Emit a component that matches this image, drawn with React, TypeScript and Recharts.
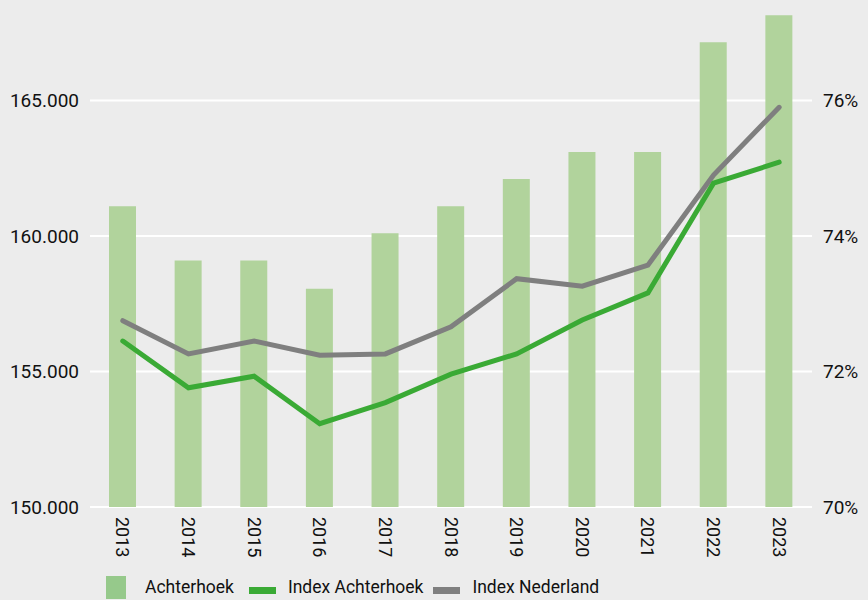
import React from 'react';
import {
    Bar,
    CartesianGrid,
    ComposedChart,
    Line,
    XAxis,
    YAxis,
} from 'recharts';

const years = ['2013', '2014', '2015', '2016', '2017', '2018', '2019', '2020', '2021', '2022', '2023'];
const achterhoek = [161100, 159100, 159100, 158050, 160100, 161100, 162100, 163100, 163100, 167150, 168150];
const indexAchterhoek = [72.45, 71.76, 71.93, 71.23, 71.54, 71.96, 72.26, 72.76, 73.16, 74.78, 75.09];
const indexNederland = [72.75, 72.26, 72.45, 72.24, 72.26, 72.66, 73.37, 73.26, 73.57, 74.9, 75.9];

const leftTicks = [150000, 155000, 160000, 165000];
const rightTicks = [70, 72, 74, 76];

const FONT = 'Roboto, "Noto Sans", sans-serif';
const BAR_COLOR = '#b1d39c';
const GREEN = '#3aaa35';
const GREY = '#7f7f7f';

const data = years.map((year, i) => ({
    year,
    achterhoek: achterhoek[i],
    indexAchterhoek: indexAchterhoek[i],
    indexNederland: indexNederland[i],
}));

const formatThousands = (v: number) => (v / 1000).toFixed(3);

const YearTick = ({ x, y, payload }: any) => (
    <text
        x={x}
        y={y}
        transform={`rotate(90, ${x}, ${y})`}
        textAnchor="start"
        dominantBaseline="central"
        fontSize={18}
        fontFamily={FONT}
        fill="#111"
    >
        {payload.value}
    </text>
);

const legendItems = [
    { label: 'Achterhoek', type: 'square', color: '#96c98b', gap: 15 },
    { label: 'Index Achterhoek', type: 'line', color: GREEN, gap: 10 },
    { label: 'Index Nederland', type: 'line', color: GREY, gap: 0 },
];

const App = () => {
    return (
        <div
            style={{
                position: 'absolute',
                left: 0,
                top: 0,
                width: 868,
                height: 600,
                background: '#ececec',
                fontFamily: FONT,
            }}
        >
            <ComposedChart
                width={868}
                height={600}
                data={data}
                margin={{ top: 10, right: 0, left: 0, bottom: 93 - 52 }}
                barSize={27}
            >
                <CartesianGrid
                    yAxisId="left"
                    vertical={false}
                    horizontalValues={leftTicks}
                    stroke="#ffffff"
                    strokeWidth={2}
                />
                <XAxis
                    dataKey="year"
                    axisLine={false}
                    tickLine={false}
                    interval={0}
                    height={52}
                    tickSize={0}
                    tickMargin={10}
                    tick={<YearTick />}
                />
                <YAxis
                    yAxisId="left"
                    orientation="left"
                    width={90}
                    domain={[150000, 168340]}
                    ticks={leftTicks}
                    allowDataOverflow
                    axisLine={false}
                    tickLine={false}
                    tickSize={0}
                    tickMargin={11}
                    tickFormatter={formatThousands}
                    tick={{ fill: '#111', fontSize: 19, fontFamily: FONT }}
                />
                <YAxis
                    yAxisId="right"
                    orientation="right"
                    width={56}
                    domain={[70, 77.336]}
                    ticks={rightTicks}
                    allowDataOverflow
                    axisLine={false}
                    tickLine={false}
                    tickSize={0}
                    tickMargin={11}
                    tickFormatter={(v: number) => `${v}%`}
                    tick={{ fill: '#111', fontSize: 19, fontFamily: FONT, textAnchor: 'start' }}
                />
                <Bar
                    yAxisId="left"
                    dataKey="achterhoek"
                    fill={BAR_COLOR}
                    isAnimationActive={false}
                />
                <Line
                    yAxisId="right"
                    dataKey="indexNederland"
                    stroke={GREY}
                    strokeWidth={5}
                    strokeLinecap="round"
                    dot={false}
                    activeDot={false}
                    type="linear"
                    isAnimationActive={false}
                />
                <Line
                    yAxisId="right"
                    dataKey="indexAchterhoek"
                    stroke={GREEN}
                    strokeWidth={5}
                    strokeLinecap="round"
                    dot={false}
                    activeDot={false}
                    type="linear"
                    isAnimationActive={false}
                />
            </ComposedChart>
            <div
                style={{
                    position: 'absolute',
                    left: 106,
                    top: 574,
                    height: 26,
                    display: 'flex',
                    alignItems: 'center',
                    fontSize: 17.5,
                    color: '#111',
                }}
            >
                {legendItems.map((item) => (
                    <div key={item.label} style={{ display: 'flex', alignItems: 'center', marginRight: item.gap }}>
                        {item.type === 'square' ? (
                            <span
                                style={{
                                    display: 'inline-block',
                                    width: 20,
                                    height: 23,
                                    background: item.color,
                                    marginRight: 19,
                                }}
                            />
                        ) : (
                            <span
                                style={{
                                    display: 'inline-block',
                                    width: 27,
                                    height: 7,
                                    background: item.color,
                                    marginRight: 12,
                                    marginTop: 6,
                                }}
                            />
                        )}
                        <span>{item.label}</span>
                    </div>
                ))}
            </div>
        </div>
    );
};

export default App;
